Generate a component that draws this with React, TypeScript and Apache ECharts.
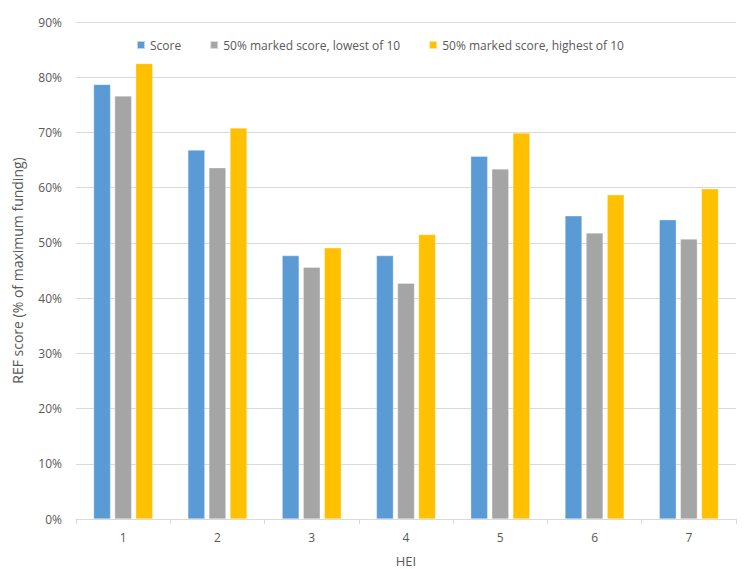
import React, { useEffect, useRef } from "react";
import * as echarts from "echarts";

const categories = ["1", "2", "3", "4", "5", "6", "7"];
const seriesNames = ["Score", "50% marked score, lowest of 10", "50% marked score, highest of 10"];
const scoreValues = [78.7, 66.8, 47.7, 47.7, 65.7, 54.9, 54.2];
const lowestValues = [76.6, 63.6, 45.6, 42.7, 63.4, 51.8, 50.7];
const highestValues = [82.5, 70.8, 49.1, 51.5, 69.9, 58.7, 59.8];
const colors = ["#5B9BD5", "#A5A5A5", "#FFC000"];

export default function App() {
  const ref = useRef<HTMLDivElement>(null);
  useEffect(() => {
    if (!ref.current) return;
    const chart = echarts.init(ref.current, undefined, { renderer: "svg" });
    const font = "Open Sans";
    const values = [scoreValues, lowestValues, highestValues];
    chart.setOption({
      animation: false,
      textStyle: { fontFamily: font },
      grid: { left: 76, right: 8, top: 22, bottom: 50, outerBoundsMode: "none", containLabel: false },
      legend: {
        data: seriesNames,
        top: 34,
        left: 131,
        itemWidth: 8,
        itemHeight: 8,
        itemGap: 28,
        icon: "rect",
        textStyle: { color: "#595959", fontSize: 12, fontFamily: font },
      },
      xAxis: {
        type: "category",
        data: categories,
        name: "HEI",
        nameLocation: "middle",
        nameGap: 35,
        nameTextStyle: { color: "#595959", fontSize: 13, fontFamily: font },
        axisLine: { lineStyle: { color: "#D9D9D9" } },
        axisTick: { show: true, length: 5, lineStyle: { color: "#D9D9D9" } },
        axisLabel: { color: "#595959", fontSize: 12, margin: 12, fontFamily: font },
      },
      yAxis: {
        type: "value",
        min: 0,
        max: 90,
        interval: 10,
        name: "REF score (% of maximum funding)",
        nameLocation: "middle",
        nameGap: 52,
        nameTextStyle: { color: "#595959", fontSize: 14, fontFamily: font },
        axisLine: { show: false },
        axisTick: { show: false },
        axisLabel: { formatter: "{value}%", color: "#595959", fontSize: 12, margin: 14, fontFamily: font },
        splitLine: { lineStyle: { color: "#D9D9D9" } },
      },
      series: seriesNames.map((n, i) => ({
        name: n,
        type: "bar",
        data: values[i],
        barWidth: 17,
        barGap: "24%",
        itemStyle: { color: colors[i], borderColor: "rgba(255,255,255,0.6)", borderWidth: 0.5 },
      })),
    });
    return () => chart.dispose();
  }, []);
  return <div ref={ref} style={{ width: 744, height: 569, position: "absolute", left: 0, top: 0 }} />;
}
